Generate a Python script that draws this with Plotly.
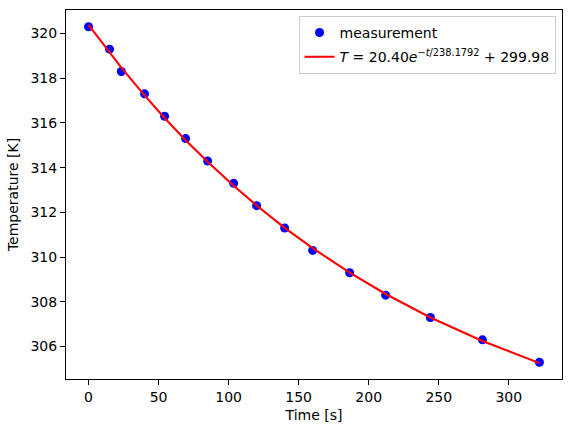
import plotly.graph_objects as go

time_s = [0, 15, 23.4, 40, 54.3, 69.3, 85, 103.6, 120, 140, 160, 186.4, 212.1, 244, 281.2, 321.9]
temp_k = [320.3, 319.3, 318.3, 317.3, 316.3, 315.3, 314.3, 313.3, 312.3, 311.3, 310.3, 309.3, 308.3, 307.3, 306.3, 305.3]
fit_k = [320.38, 319.14, 318.47, 317.23, 316.22, 315.23, 314.26, 313.19, 312.31, 311.31, 310.40, 309.31, 308.35, 307.30, 306.25, 305.26]
x_ticks = [0, 50, 100, 150, 200, 250, 300]
y_ticks = [306, 308, 310, 312, 314, 316, 318, 320]

font = dict(family="DejaVu Sans", size=14, color="black")

fig = go.Figure()
fig.add_trace(go.Scatter(x=time_s, y=temp_k, mode="markers", name="measurement",
                         legendgroup="a",
                         marker=dict(color="blue", size=9, line=dict(width=0))))
fig.add_trace(go.Scatter(x=time_s, y=fit_k, mode="lines",
                         legendgroup="b",
                         name="<i>T</i> = 20.40<i>e</i><sup>\u2212<i>t</i>/238.1792</sup> + 299.98",
                         line=dict(color="red", width=2.1)))

axis_common = dict(showline=True, linecolor="black", linewidth=1.1, mirror=True,
                   ticks="outside", ticklen=5, tickwidth=1.1, tickcolor="black",
                   showgrid=False, zeroline=False, tickfont=font, automargin=False)

fig.update_layout(
    width=571, height=432,
    margin=dict(l=66, r=9, t=10, b=53),
    paper_bgcolor="white", plot_bgcolor="white",
    font=font,
    showlegend=True,
    legend=dict(x=0.987, y=0.984, xanchor="right", yanchor="top",
                bgcolor="rgba(255,255,255,0.8)", bordercolor="#cccccc", borderwidth=1,
                font=dict(family="DejaVu Sans", size=14), tracegroupgap=3,
                traceorder="grouped", itemwidth=30),
    xaxis=dict(range=[-16.1, 338.0], tickvals=x_ticks,
               title=dict(text="Time [s]", font=font, standoff=6), **axis_common),
    yaxis=dict(range=[304.55, 321.05], tickvals=y_ticks,
               title=dict(text="Temperature [K]", font=font, standoff=8), **axis_common),
)

fig.write_html("out.html", config={"displayModeBar": False},
               post_script="document.body.style.margin='0';document.body.style.padding='0';")
